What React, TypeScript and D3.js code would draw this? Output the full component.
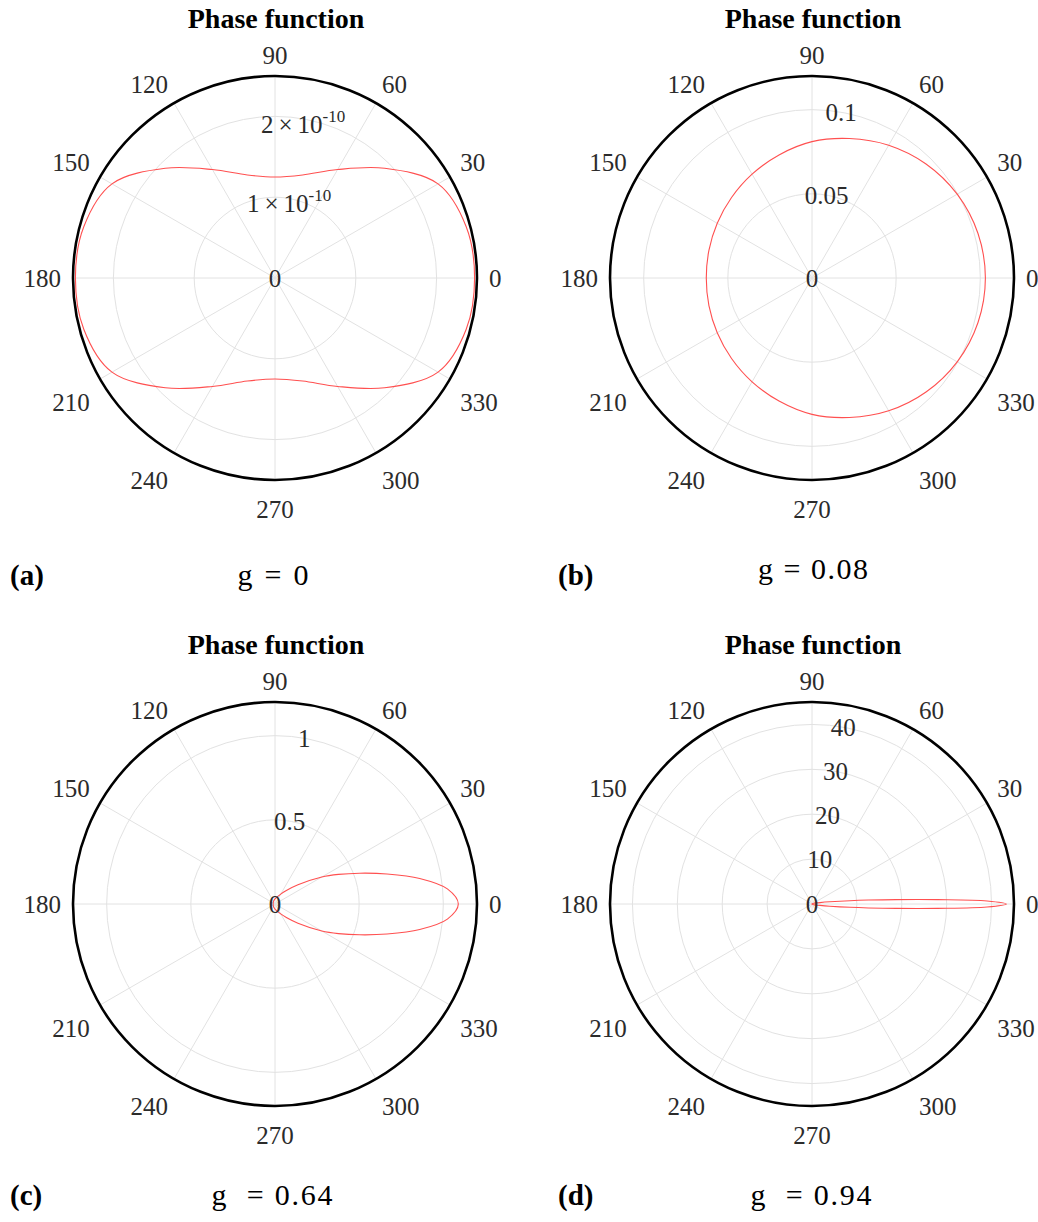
import React from "react";
import * as d3 from "d3";

// Polar angle ticks (degrees) shared by all four panels
const thetaTicks = [0, 30, 60, 90, 120, 150, 180, 210, 240, 270, 300, 330];

// Panel (a): g = 0
const anglesA = [0, 15, 30, 45, 60, 75, 90, 105, 120, 135, 150, 165, 180, 195, 210, 225, 240, 255, 270, 285, 300, 315, 330, 345];
const phaseA = [
  2.47e-10, 2.45e-10, 2.33e-10, 1.92e-10, 1.55e-10, 1.32e-10, 1.25e-10, 1.32e-10, 1.55e-10, 1.92e-10, 2.33e-10, 2.45e-10,
  2.47e-10, 2.45e-10, 2.33e-10, 1.92e-10, 1.55e-10, 1.32e-10, 1.25e-10, 1.32e-10, 1.55e-10, 1.92e-10, 2.33e-10, 2.45e-10,
];
const ringTicksA = [0, 1e-10, 2e-10];
const ringBaseA = ["0", "1\u2009×\u200910", "2\u2009×\u200910"];
const ringSupA = ["", "-10", "-10"];
const rMaxA = 2.5e-10;

// Panel (b): g = 0.08
const anglesB = [0, 15, 30, 45, 60, 75, 90, 105, 120, 135, 150, 165, 180, 195, 210, 225, 240, 255, 270, 285, 300, 315, 330, 345];
const phaseB = [
  0.103, 0.1021, 0.0996, 0.0958, 0.0911, 0.0858, 0.081, 0.0757, 0.0712, 0.0676, 0.065, 0.0634,
  0.0628, 0.0634, 0.065, 0.0676, 0.0712, 0.0757, 0.081, 0.0858, 0.0911, 0.0958, 0.0996, 0.1021,
];
const ringTicksB = [0, 0.05, 0.1];
const ringBaseB = ["0", "0.05", "0.1"];
const ringSupB = ["", "", ""];
const rMaxB = 0.12;

// Panel (c): g = 0.64
const anglesC = [0, 5, 10, 15, 20, 25, 30, 40, 50, 60, 90, 120, 150, 180, 210, 240, 270, 300, 310, 320, 330, 335, 340, 345, 350, 355];
const phaseC = [
  1.089, 1.028, 0.873, 0.689, 0.535, 0.416, 0.321, 0.178, 0.105, 0.068, 0.03, 0.018, 0.012,
  0.011, 0.012, 0.018, 0.03, 0.068, 0.105, 0.178, 0.321, 0.416, 0.535, 0.689, 0.873, 1.028,
];
const ringTicksC = [0, 0.5, 1];
const ringBaseC = ["0", "0.5", "1"];
const ringSupC = ["", "", ""];
const rMaxC = 1.2;

// Panel (d): g = 0.94
const anglesD = [0, 1, 2, 3, 4, 5, 7, 10, 15, 20, 30, 45, 60, 90, 135, 180, 225, 270, 300, 315, 330, 340, 345, 350, 353, 355, 356, 357, 358, 359];
const phaseD = [
  43.3, 39.0, 28.0, 18.8, 12.6, 8.5, 4.0, 1.8, 0.8, 0.45, 0.2, 0.1, 0.06, 0.03, 0.015,
  0.012, 0.015, 0.03, 0.06, 0.1, 0.2, 0.45, 0.8, 1.8, 4.0, 8.5, 12.6, 18.8, 28.0, 39.0,
];
const ringTicksD = [0, 10, 20, 30, 40];
const ringBaseD = ["0", "10", "20", "30", "40"];
const ringSupD = ["", "", "", "", ""];
const rMaxD = 45;

const panelLetters = ["(a)", "(b)", "(c)", "(d)"];
const gLabels = ["g = 0", "g = 0.08", "g  = 0.64", "g  = 0.94"];

const R = 202;
const TEXT = "#2b2b2b";
const GRID = "#e2e2e2";
const CURVE = "#ff5050";
const FONT = "'Liberation Serif', 'Times New Roman', serif";

type PanelProps = {
  cx: number;
  cy: number;
  angles: number[];
  values: number[];
  rMax: number;
  ringTicks: number[];
  ringBase: string[];
  ringSup: string[];
};

function PolarPanel({ cx, cy, angles, values, rMax, ringTicks, ringBase, ringSup }: PanelProps) {
  const r = d3.scaleLinear().domain([0, rMax]).range([0, R]);
  const toRad = (deg: number) => (deg * Math.PI) / 180;

  const pts: [number, number][] = angles.map((a, i) => [
    cx + r(values[i]) * Math.cos(toRad(a)),
    cy - r(values[i]) * Math.sin(toRad(a)),
  ]);
  const path = d3.line().curve(d3.curveCatmullRomClosed.alpha(0.5))(pts) || "";

  const labelR = R + 12;
  const rLabelAngle = toRad(80);

  return (
    <g>
      {/* spokes */}
      {thetaTicks.map((t) => (
        <line
          key={"s" + t}
          x1={cx}
          y1={cy}
          x2={cx + R * Math.cos(toRad(t))}
          y2={cy - R * Math.sin(toRad(t))}
          stroke={GRID}
          strokeWidth={1}
        />
      ))}
      {/* rings */}
      {ringTicks.filter((v) => v > 0).map((v) => (
        <circle key={"r" + v} cx={cx} cy={cy} r={r(v)} fill="none" stroke={GRID} strokeWidth={1} />
      ))}
      {/* outer boundary */}
      <circle cx={cx} cy={cy} r={R} fill="none" stroke="#000" strokeWidth={2.6} />
      {/* phase function curve */}
      <path d={path} fill="none" stroke={CURVE} strokeWidth={1.1} />
      {/* angle labels */}
      {thetaTicks.map((t) => {
        const c = Math.cos(toRad(t));
        const s = Math.sin(toRad(t));
        const x = cx + labelR * c;
        let y = cy - labelR * s;
        const anchor = Math.abs(c) < 0.1 ? "middle" : c > 0 ? "start" : "end";
        if (s < -0.1) y = y + 26;
        else if (s <= 0.1) y = y + 8.5;
        return (
          <text key={"t" + t} x={x} y={y} textAnchor={anchor} fontSize={25} fill={TEXT} fontFamily={FONT}>
            {t}
          </text>
        );
      })}
      {/* radial tick labels */}
      {ringTicks.map((v, i) => {
        const rr = r(v);
        const x = cx + rr * Math.cos(rLabelAngle);
        const yPt = cy - rr * Math.sin(rLabelAngle);
        const hasSup = ringSup[i] !== "";
        return (
          <text
            key={"l" + v}
            x={x}
            y={yPt + (hasSup ? 14 : 8.5)}
            textAnchor="middle"
            fontSize={25}
            fill={TEXT}
            fontFamily={FONT}
          >
            {ringBase[i]}
            {hasSup && (
              <tspan fontSize={17} dy={-11}>
                {ringSup[i]}
              </tspan>
            )}
          </text>
        );
      })}
    </g>
  );
}

export default function App() {
  const cols = [275, 812];
  const rows = [278, 904];
  const panels = [
    { angles: anglesA, values: phaseA, rMax: rMaxA, ringTicks: ringTicksA, ringBase: ringBaseA, ringSup: ringSupA },
    { angles: anglesB, values: phaseB, rMax: rMaxB, ringTicks: ringTicksB, ringBase: ringBaseB, ringSup: ringSupB },
    { angles: anglesC, values: phaseC, rMax: rMaxC, ringTicks: ringTicksC, ringBase: ringBaseC, ringSup: ringSupC },
    { angles: anglesD, values: phaseD, rMax: rMaxD, ringTicks: ringTicksD, ringBase: ringBaseD, ringSup: ringSupD },
  ];
  const captionY = [585, 1205];
  const gY = [585, 1205];
  const gWidth = [71, 110, 121, 121];
  const gCenter = [273, 813, 272, 811];

  return (
    <svg
      width={1038}
      height={1222}
      viewBox="0 0 1038 1222"
      style={{ position: "absolute", left: 0, top: 0, background: "#fff" }}
    >
      <rect width={1038} height={1222} fill="#fff" />
      {panels.map((p, i) => {
        const cx = cols[i % 2];
        const cy = rows[Math.floor(i / 2)];
        const row = Math.floor(i / 2);
        return (
          <g key={i}>
            <text
              x={cx + 1}
              y={cy - 250}
              textAnchor="middle"
              fontSize={28}
              fontWeight="bold"
              fill="#000"
              fontFamily={FONT}
            >
              Phase function
            </text>
            <PolarPanel cx={cx} cy={cy} {...p} />
            <text
              x={i % 2 === 0 ? 10 : 558}
              y={captionY[row]}
              fontSize={29}
              fontWeight="bold"
              fill="#000"
              fontFamily={FONT}
            >
              {panelLetters[i]}
            </text>
            <text
              x={gCenter[i] - gWidth[i] / 2}
              y={gY[row] - (i === 1 ? 6 : 0)}
              fontSize={30}
              fill="#000"
              fontFamily={FONT}
              textLength={gWidth[i]}
              lengthAdjust="spacing"
              style={{ whiteSpace: "pre" }}
            >
              {gLabels[i]}
            </text>
          </g>
        );
      })}
    </svg>
  );
}
